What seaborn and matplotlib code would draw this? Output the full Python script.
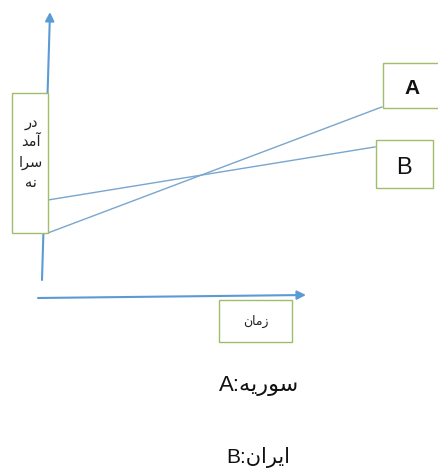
import matplotlib
matplotlib.use("Agg")
import matplotlib.pyplot as plt
import pandas as pd
import seaborn as sns
from matplotlib.patches import Rectangle

# ---------------- data ----------------
series = ["A", "B"]
time_start = [0.0, 0.0]
time_end = [10.0, 9.8]
income_start = [2.0, 3.83]
income_end = [9.0, 6.78]

# Persian labels (visual order, Arabic presentation forms)
y_label_lines = ["\uFEAD\uFEA9",            # در
                 "\uFEAA\uFEE3\uFE81",      # آمد
                 "\uFE8D\uFEAE\uFEB3",      # سرا
                 "\uFEEA\uFEE7"]            # نه
x_label = "\uFEE5\uFE8E\uFEE3\uFEAF"        # زمان
legend_names = ["\uFEEA\uFEF3\uFEAD\uFEEE\uFEB3",   # سوریه
                "\uFEE5\uFE8D\uFEAE\uFEF3\uFE8D"]   # ایران

# ---------------- figure ----------------
sns.set_theme(style="white")
plt.rcParams["font.family"] = ["Liberation Sans", "DejaVu Sans"]

W, H = 439, 472
fig = plt.figure(figsize=(W / 100, H / 100), dpi=100)
ax = fig.add_axes([0, 0, 1, 1])

rows = []
for s, t0, t1, v0, v1 in zip(series, time_start, time_end, income_start, income_end):
    rows.append({"series": s, "time": t0, "income": v0})
    rows.append({"series": s, "time": t1, "income": v1})
df = pd.DataFrame(rows)

line_col = "#79a6cf"
sns.lineplot(data=df, x="time", y="income", hue="series",
             palette={"A": line_col, "B": line_col}, legend=False,
             ax=ax, lw=1.0, zorder=2)
ax.set_xlim(-1.437, 11.707)
ax.set_ylim(-11.28, 14.94)
ax.axis("off")


def f(x, y):
    return (x / W, 1 - y / H)


arrow_col = "#5b9bd5"
box_edge = "#9fbd6a"

# axis arrows
ax.annotate("", xy=f(50, 12), xytext=f(42, 280), xycoords="figure fraction",
            textcoords="figure fraction",
            arrowprops=dict(arrowstyle="-|>", color=arrow_col, lw=1.5,
                            mutation_scale=13, shrinkA=0, shrinkB=0),
            zorder=1)
ax.annotate("", xy=f(306, 295), xytext=f(38, 298), xycoords="figure fraction",
            textcoords="figure fraction",
            arrowprops=dict(arrowstyle="-|>", color=arrow_col, lw=1.5,
                            mutation_scale=13, shrinkA=0, shrinkB=0),
            zorder=1)


def box(x0, y0, x1, y1):
    (fx0, fy1) = f(x0, y1)
    r = Rectangle((fx0, fy1), (x1 - x0) / W, (y1 - y0) / H,
                  transform=fig.transFigure, facecolor="white",
                  edgecolor=box_edge, lw=1.0, zorder=3)
    ax.add_patch(r)


box(12, 93, 48, 233)
box(383, 63, 440, 108)
box(376, 140, 433, 188)
box(219, 300, 292, 342)

# y label lines
for i, txt in enumerate(y_label_lines):
    ax.text(*f(31, 122 + i * 20), txt, transform=fig.transFigure,
            ha="center", va="center", fontsize=10.5, color="#222222",
            family=["DejaVu Sans"], zorder=4)

ax.text(*f(256, 321), x_label, transform=fig.transFigure, ha="center",
        va="center", fontsize=9, color="#222222", family=["DejaVu Sans"],
        zorder=4)

ax.text(*f(412, 89), series[0], transform=fig.transFigure, ha="center",
        va="center", fontsize=15, fontweight="bold", color="#111111", zorder=4)
ax.text(*f(404, 168), series[1], transform=fig.transFigure, ha="center",
        va="center", fontsize=17, color="#111111", zorder=4)

# legend-like labels
ax.text(*f(259, 385), series[0] + ":" + legend_names[0], transform=fig.transFigure,
        ha="center", va="center", fontsize=16, color="#111111",
        family=["Liberation Sans", "DejaVu Sans"], zorder=4)
ax.text(*f(258, 457), series[1] + ":" + legend_names[1], transform=fig.transFigure,
        ha="center", va="center", fontsize=15, color="#111111",
        family=["Liberation Sans", "DejaVu Sans"], zorder=4)

fig.savefig("out.png", dpi=100)
